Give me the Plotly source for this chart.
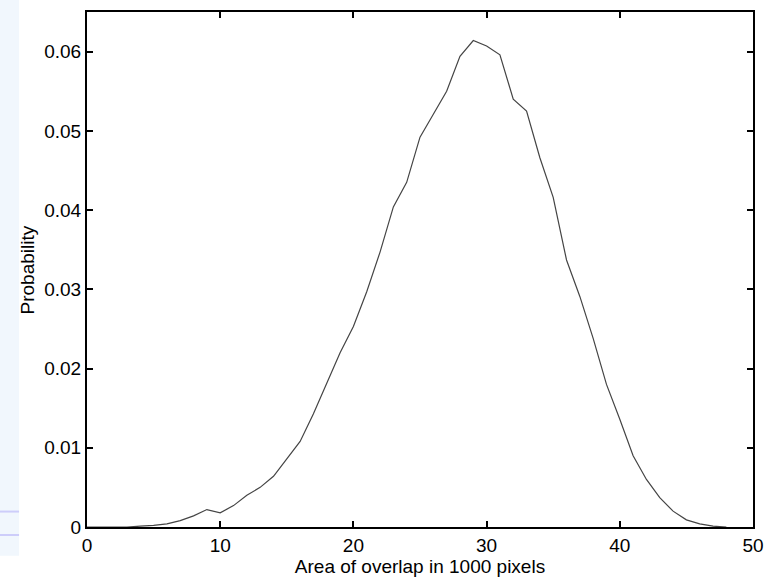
import plotly.graph_objects as go

area_k = list(range(0, 49))
probability = [
    0.0, 0.0, 0.0, 0.0, 0.0001, 0.0002, 0.0004, 0.0008, 0.0014, 0.0022,
    0.0018, 0.0027, 0.0040, 0.0050, 0.0064, 0.0086, 0.0108, 0.0143, 0.0182, 0.0220,
    0.0253, 0.0297, 0.0347, 0.0404, 0.0435, 0.0492, 0.0521, 0.0550, 0.0594, 0.0614,
    0.0607, 0.0596, 0.0540, 0.0525, 0.0466, 0.0416, 0.0337, 0.0291, 0.0238, 0.0180,
    0.0136, 0.0090, 0.0060, 0.0037, 0.0020, 0.0009, 0.0004, 0.0001, 0.0,
]
x_ticks = [0, 10, 20, 30, 40, 50]
y_ticks = [0, 0.01, 0.02, 0.03, 0.04, 0.05, 0.06]
y_tick_labels = ["0", "0.01", "0.02", "0.03", "0.04", "0.05", "0.06"]

font = dict(family="Liberation Sans, Arial, sans-serif", size=19, color="black")

fig = go.Figure()
fig.add_trace(go.Scatter(
    x=area_k, y=probability, mode="lines",
    line=dict(color="#444444", width=1.2),
    showlegend=False, hoverinfo="x+y",
))

axis_common = dict(
    showline=True, linecolor="black", linewidth=2, mirror="ticks",
    ticks="inside", ticklen=6, tickwidth=1.5, tickcolor="black",
    showgrid=False, zeroline=False, tickfont=font,
)
fig.update_xaxes(range=[0, 50], tickvals=x_ticks, ticktext=[str(v) for v in x_ticks],
                 title=dict(text="Area of overlap in 1000 pixels", font=font, standoff=0),
                 **axis_common)
fig.update_yaxes(range=[0, 0.065], tickvals=y_ticks, ticktext=y_tick_labels,
                 **axis_common)

# y-axis title as an annotation so it can sit closer to the edge
fig.add_annotation(text="Probability", xref="paper", yref="paper",
                   x=-0.0886, y=0.5, xanchor="center", yanchor="middle",
                   textangle=-90, showarrow=False, font=font)

# decorative slide background strip on the left
fig.add_shape(type="rect", xref="paper", yref="paper",
              x0=-0.131, x1=-0.102, y0=-0.056, y1=1.05,
              fillcolor="#f1f7fd", line=dict(width=0), layer="below")
for yy in (0.030, -0.0155):
    fig.add_shape(type="line", xref="paper", yref="paper",
                  x0=-0.131, x1=-0.102, y0=yy, y1=yy,
                  line=dict(color="#cdcdfa", width=2))

fig.update_layout(
    width=778, height=579,
    margin=dict(l=87, r=25, t=10, b=51),
    paper_bgcolor="white", plot_bgcolor="white",
    font=font,
)
fig.write_html("out.html", config={"displayModeBar": False},
               post_script="document.body.style.margin='0';document.body.style.overflow='hidden';")
